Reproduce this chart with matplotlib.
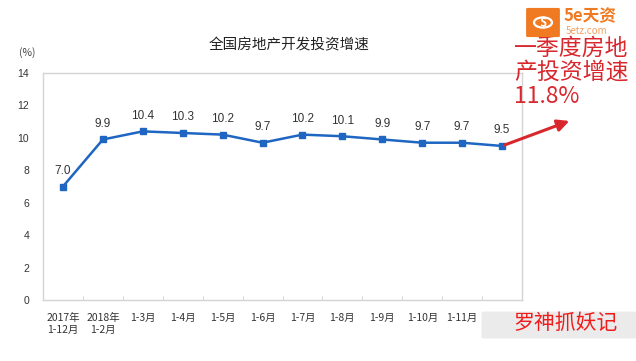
import numpy as np
import matplotlib.pyplot as plt
from matplotlib.patches import FancyBboxPatch, Circle

plt.rcParams['font.family'] = ['Noto Sans CJK SC', 'DejaVu Sans']

# données
mois = ['2017年\n1-12月', '2018年\n1-2月', '1-3月', '1-4月', '1-5月', '1-6月',
        '1-7月', '1-8月', '1-9月', '1-10月', '1-11月', '1-12月']
croissance = [7.0, 9.9, 10.4, 10.3, 10.2, 9.7, 10.2, 10.1, 9.9, 9.7, 9.7, 9.5]
yticks = [0, 2, 4, 6, 8, 10, 12, 14]
titre = '全国房地产开发投资增速'
note = '一季度房地\n产投资增速\n11.8%'

W, H = 636, 361
fig = plt.figure(figsize=(W / 100, H / 100), dpi=100)
fig.patch.set_facecolor('white')
ax = fig.add_axes([43 / W, 1 - 300 / H, (522 - 43) / W, (300 - 73) / H])

x = np.arange(len(mois))
ax.plot(x, croissance, color='#1f66c2', lw=1.8, marker='s', markersize=4.5, zorder=3)
for xi, v in zip(x, croissance):
    ax.annotate('%.1f' % v, (xi, v), xytext=(0, 7), textcoords='offset points',
                ha='center', va='bottom', fontsize=8.5, color='#333333',
                family=['Liberation Sans', 'DejaVu Sans'])

ax.set_xlim(-0.5, len(mois) - 0.5)
ax.set_ylim(0, 14)
ax.set_yticks(yticks)
ax.set_yticklabels([str(t) for t in yticks], fontsize=7.5, color='#333333',
                   family=['Liberation Sans', 'DejaVu Sans'])
ax.tick_params(axis='y', length=0, pad=10)
ax.set_xticks(x)
ax.set_xticklabels(mois, fontsize=7.5, color='#333333', linespacing=1.25)
# le dernier libellé est caché sous le filigrane dans l'original
ax.get_xticklabels()[-1].set_visible(False)
ax.tick_params(axis='x', which='major', length=0, pad=9)
ax.set_xticks(np.arange(0.5, len(mois) - 0.5), minor=True)
ax.tick_params(axis='x', which='minor', length=3, direction='in', color='#cccccc')
for s in ax.spines.values():
    s.set_color('#d4d4d4')
    s.set_linewidth(1)

fig.text(289 / W, 1 - 45 / H, titre, ha='center', va='center', fontsize=10.5, color='#222222')
fig.text(27 / W, 1 - 53 / H, '(%)', ha='center', va='center', fontsize=7.5, color='#444444')

# flèche et note rouge
rouge = '#d8282e'
ax.annotate('', xy=(572 / W, 1 - 120 / H), xycoords='figure fraction',
            xytext=(x[-1], croissance[-1]), textcoords='data',
            arrowprops=dict(arrowstyle='-|>,head_length=0.7,head_width=0.35',
                            color=rouge, lw=2.2, shrinkA=2))
fig.text(514 / W, 1 - 37 / H, note, ha='left', va='top', fontsize=16.5,
         color=rouge, linespacing=1.05)

# logo en haut à droite
fig.patches.append(FancyBboxPatch((528 / W, 1 - 36 / H), 30 / W, 27 / H,
                                  boxstyle='round,pad=0.003', transform=fig.transFigure,
                                  fc='#ef7a22', ec='none', zorder=5))
fig.patches.append(Circle((543 / W, 1 - 22.5 / H), 9 / W, transform=fig.transFigure,
                          fc='none', ec='white', lw=1.6, zorder=6))
fig.text(543 / W, 1 - 22.5 / H, '$', ha='center', va='center', fontsize=9,
         color='white', fontweight='bold', zorder=7)
fig.text(564 / W, 1 - 16 / H, '5e天资', ha='left', va='center', fontsize=12,
         color='#ef7a22', fontweight='bold')
fig.text(566 / W, 1 - 31 / H, '5etz.com', ha='left', va='center', fontsize=7,
         color='#f2a060')

# filigrane en bas à droite
fig.patches.append(FancyBboxPatch((484 / W, 1 - 337 / H), 150 / W, 24 / H,
                                  boxstyle='round,pad=0.004', transform=fig.transFigure,
                                  fc='#ebebeb', ec='none', zorder=5))
fig.text(566 / W, 1 - 323 / H, '罗神抓妖记', ha='center', va='center', fontsize=15,
         color='#f01c1c', zorder=6)

fig.savefig('out.png', dpi=100)
